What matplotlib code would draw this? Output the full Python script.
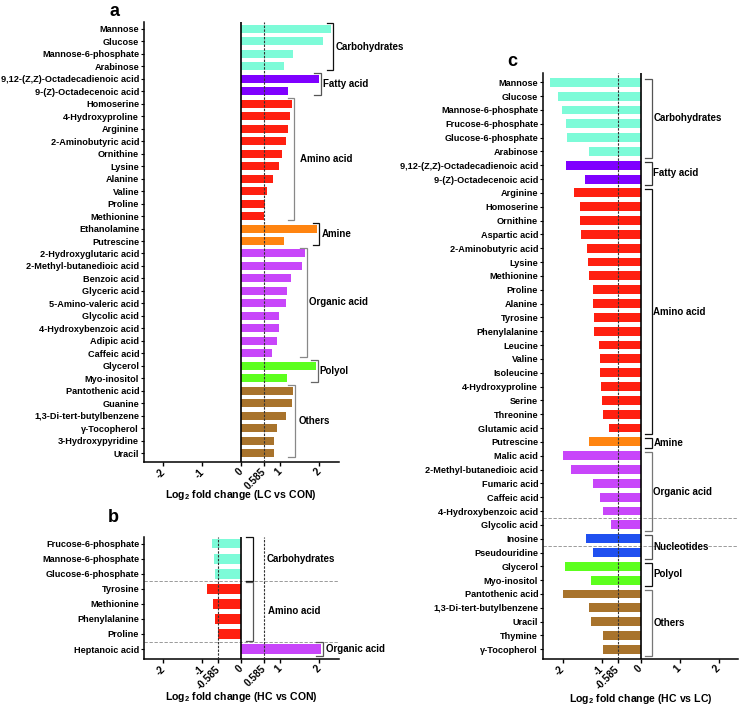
import matplotlib
matplotlib.use('Agg')
import matplotlib.pyplot as plt
import numpy as np

plt.rcParams['font.family'] = ['Liberation Sans', 'DejaVu Sans']
plt.rcParams['font.weight'] = 'bold'
plt.rcParams['mathtext.fontset'] = 'custom'
plt.rcParams['mathtext.rm'] = 'Liberation Sans:bold'
plt.rcParams['mathtext.bf'] = 'Liberation Sans:bold'
plt.rcParams['mathtext.default'] = 'regular'

# ---------------- data ----------------
a_names = ['Mannose', 'Glucose', 'Mannose-6-phosphate', 'Arabinose',
           '9,12-(Z,Z)-Octadecadienoic acid', '9-(Z)-Octadecenoic acid',
           'Homoserine', '4-Hydroxyproline', 'Arginine', '2-Aminobutyric acid',
           'Ornithine', 'Lysine', 'Alanine', 'Valine', 'Proline', 'Methionine',
           'Ethanolamine', 'Putrescine',
           '2-Hydroxyglutaric acid', '2-Methyl-butanedioic acid', 'Benzoic acid',
           'Glyceric acid', '5-Amino-valeric acid', 'Glycolic acid',
           '4-Hydroxybenzoic acid', 'Adipic acid', 'Caffeic acid',
           'Glycerol', 'Myo-inositol',
           'Pantothenic acid', 'Guanine', '1,3-Di-tert-butylbenzene',
           'γ-Tocopherol', '3-Hydroxypyridine', 'Uracil']
a_values = [2.32, 2.09, 1.32, 1.09,
            2.00, 1.20,
            1.31, 1.26, 1.19, 1.15, 1.05, 0.96, 0.81, 0.67, 0.62, 0.59,
            1.96, 1.10,
            1.64, 1.56, 1.27, 1.17, 1.15, 0.97, 0.96, 0.91, 0.79,
            1.92, 1.17,
            1.32, 1.30, 1.15, 0.91, 0.85, 0.85]
a_groups = (['Carbohydrates'] * 4 + ['Fatty acid'] * 2 + ['Amino acid'] * 10 +
            ['Amine'] * 2 + ['Organic acid'] * 9 + ['Polyol'] * 2 + ['Others'] * 6)
a_ticks = [-2, -1, 0, 0.585, 1, 2]
a_ticklabels = ['-2', '-1', '0', '0.585', '1', '2']

b_names = ['Frucose-6-phosphate', 'Mannose-6-phosphate', 'Glucose-6-phosphate',
           'Tyrosine', 'Methionine', 'Phenylalanine', 'Proline',
           'Heptanoic acid']
b_values = [-0.75, -0.69, -0.67, -0.88, -0.73, -0.68, -0.61, 2.04]
b_groups = ['Carbohydrates'] * 3 + ['Amino acid'] * 4 + ['Organic acid']
b_ticks = [-2, -1, -0.585, 0, 0.585, 1, 2]
b_ticklabels = ['-2', '-1', '-0.585', '0', '0.585', '1', '2']

c_names = ['Mannose', 'Glucose', 'Mannose-6-phosphate', 'Frucose-6-phosphate',
           'Glucose-6-phosphate', 'Arabinose',
           '9,12-(Z,Z)-Octadecadienoic acid', '9-(Z)-Octadecenoic acid',
           'Arginine', 'Homoserine', 'Ornithine', 'Aspartic acid',
           '2-Aminobutyric acid', 'Lysine', 'Methionine', 'Proline', 'Alanine',
           'Tyrosine', 'Phenylalanine', 'Leucine', 'Valine', 'Isoleucine',
           '4-Hydroxyproline', 'Serine', 'Threonine', 'Glutamic acid',
           'Putrescine',
           'Malic acid', '2-Methyl-butanedioic acid', 'Fumaric acid',
           'Caffeic acid', '4-Hydroxybenzoic acid', 'Glycolic acid',
           'Inosine', 'Pseudouridine',
           'Glycerol', 'Myo-inositol',
           'Pantothenic acid', '1,3-Di-tert-butylbenzene', 'Uracil', 'Thymine',
           'γ-Tocopherol']
c_values = [-2.31, -2.12, -2.01, -1.90, -1.88, -1.31,
            -1.91, -1.42,
            -1.71, -1.56, -1.55, -1.53, -1.36, -1.34, -1.32, -1.22, -1.21,
            -1.20, -1.18, -1.07, -1.05, -1.03, -1.01, -1.00, -0.97, -0.82,
            -1.31,
            -2.00, -1.78, -1.23, -1.04, -0.97, -0.76,
            -1.40, -1.22,
            -1.94, -1.28,
            -1.98, -1.33, -1.27, -0.97, -0.97]
c_groups = (['Carbohydrates'] * 6 + ['Fatty acid'] * 2 + ['Amino acid'] * 18 +
            ['Amine'] + ['Organic acid'] * 6 + ['Nucleotides'] * 2 +
            ['Polyol'] * 2 + ['Others'] * 5)
c_ticks = [-2, -1, -0.585, 0, 1, 2]
c_ticklabels = ['-2', '-1', '-0.585', '0', '1', '2']

# ---------------- style ----------------
COLORS = {'Carbohydrates': '#7DFBD8', 'Fatty acid': '#7F00FF',
          'Amino acid': '#FF2010', 'Amine': '#FF8410',
          'Organic acid': '#C846FA', 'Polyol': '#5CFF1E',
          'Others': '#A8732C', 'Nucleotides': '#2050F0'}

W, H = 739, 708
fig = plt.figure(figsize=(W / 100, H / 100), dpi=100)


def px_axes(left, top, right, bottom):
    return fig.add_axes([left / W, 1 - bottom / H, (right - left) / W, (bottom - top) / H])


FS = 6.6


def panel(ax, names, values, groups, ticks, ticklabels, pad_top, pad_bot,
          br_off, lab_off, br_colors, dashes_at, separators):
    n = len(names)
    y = np.arange(n)
    cols = [COLORS[g] for g in groups]
    ax.barh(y, values, height=0.64, color=cols, edgecolor='none', zorder=2)
    ax.set_xlim(-2.5, 2.5)
    ax.set_ylim(n - 1 + pad_bot, -pad_top)
    ax.set_yticks(y)
    ax.set_yticklabels(names, fontsize=FS, fontweight='bold')
    ax.set_xticks(ticks)
    ax.set_xticklabels(ticklabels, fontsize=7.2, fontweight='bold', rotation=45,
                       ha='right', va='center', rotation_mode='anchor')
    ax.tick_params(axis='x', length=3, width=1, pad=3)
    ax.tick_params(axis='y', length=2.5, width=0.8, pad=1)
    for s in ['top', 'right']:
        ax.spines[s].set_visible(False)
    for s in ['left', 'bottom']:
        ax.spines[s].set_linewidth(1.1)
    ax.axvline(0, color='black', lw=1.2, zorder=4)
    for d in dashes_at:
        ax.axvline(d, color='#333333', lw=0.8, ls=(0, (2.2, 1.2)), zorder=3)
    for s in separators:
        ax.axhline(s, color='#8a8a8a', lw=0.6, ls=(0, (4, 2)), zorder=1)
    # brackets
    start = 0
    gi = 0
    for i in range(1, n + 1):
        if i == n or groups[i] != groups[start]:
            g = groups[start]
            vmax = max(values[start:i])
            bx = vmax + 0.05 if vmax > 0 else 0.29
            y0 = start - br_off[0]
            y1 = i - 1 + br_off[1]
            c = br_colors[gi]
            ax.plot([bx - 0.17, bx, bx, bx - 0.17], [y0, y0, y1, y1],
                    color=c, lw=0.9, clip_on=False, zorder=5,
                    solid_joinstyle='miter')
            ax.text(bx + lab_off[gi], (y0 + y1) / 2, g, fontsize=FS + 0.4,
                    fontweight='bold', ha='left', va='center', clip_on=False)
            start = i
            gi += 1


ax_a = px_axes(144, 22, 338.5, 462)
panel(ax_a, a_names, a_values, a_groups, a_ticks, a_ticklabels,
      0.56, 0.72, (0.45, 0.3), [0.06, 0.06, 0.14, 0.06, 0.06, 0.05, 0.11],
      ['#111111', '#555555', '#888888', '#111111', '#888888', '#666666', '#888888'],
      [0.585], [])

ax_b = px_axes(144, 537, 338.5, 659)
panel(ax_b, b_names, b_values, b_groups, b_ticks, b_ticklabels,
      0.44, 0.66, (0.45, 0.45), [0.37, 0.4, 0.08],
      ['#111111', '#555555', '#555555'],
      [-0.585, 0.585], [2.5, 6.5])

ax_c = px_axes(543, 73, 738, 659)
panel(ax_c, c_names, c_values, c_groups, c_ticks, c_ticklabels,
      0.67, 0.70, (0.27, 0.45), [0.04] * 8,
      ['#555555', '#333333', '#111111', '#111111', '#777777', '#555555', '#111111', '#777777'],
      [-0.585], [31.5, 33.5])

fig.text(115 / W, 1 - 12 / H, 'a', fontsize=13, fontweight='bold', ha='center', va='center')
fig.text(113 / W, 1 - 518 / H, 'b', fontsize=13, fontweight='bold', ha='center', va='center')
fig.text(512 / W, 1 - 62 / H, 'c', fontsize=13, fontweight='bold', ha='center', va='center')

fig.text(241 / W, 1 - 495 / H, r'Log$_2$ fold change (LC vs CON)', fontsize=7.6,
         fontweight='bold', ha='center', va='center')
fig.text(241 / W, 1 - 697 / H, r'Log$_2$ fold change (HC vs CON)', fontsize=7.6,
         fontweight='bold', ha='center', va='center')
fig.text(641 / W, 1 - 699 / H, r'Log$_2$ fold change (HC vs LC)', fontsize=7.6,
         fontweight='bold', ha='center', va='center')

fig.savefig('out.png', dpi=100, facecolor='white')
